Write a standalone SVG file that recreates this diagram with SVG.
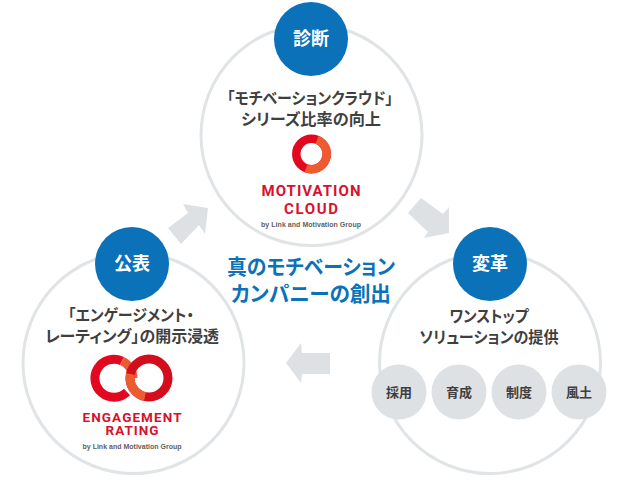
<svg xmlns="http://www.w3.org/2000/svg" width="620" height="484" viewBox="0 0 620 484">
<defs><style>
text{font-family:"Noto Sans CJK JP","Noto Sans",sans-serif;text-anchor:middle;font-weight:700}
.ring{fill:#fff;stroke:#e1e4e6;stroke-width:3}
.badge{fill:#0b72b9}
.bt{fill:#fff;font-size:18px}
.lab{fill:#3f3f3f;font-size:16px;font-feature-settings:"palt"}
.hero{fill:#0b72b9;font-size:21px;font-feature-settings:"palt"}
.sub{fill:#dde1e4}
.st{fill:#3f3f3f;font-size:13px}
.arr{fill:#dde1e4}
.lg{fill:#d9112c;font-family:Roboto,"Liberation Sans",sans-serif;font-size:15px}
.lg2{fill:#d9112c;font-family:Roboto,"Liberation Sans",sans-serif;font-size:13.5px}
.by{fill:#444;opacity:.85;font-family:"Liberation Sans",sans-serif;font-size:7px;font-weight:700}
</style></defs>
<g id="connectors">
<polygon class="arr" points="183,204 208,208 205,234 199,225 181,244 168,228 188,213"/>
<polygon class="arr" points="421,198 408,213 428,232 424,238 449,233 449,207 443,214"/>
<polygon class="arr" points="286,363 301,343 302,353 330,353 330,374 302,374 301,383"/>
</g>
<g id="diagnosis">
<circle class="ring" cx="311.500" cy="135" r="110.500"/>
<circle class="badge" cx="311" cy="39" r="37"/>
<text class="bt" x="311" y="45">診断</text>
<text class="lab" x="310" y="104" textLength="166" lengthAdjust="spacingAndGlyphs">「モチベーションクラウド」</text>
<text class="lab" x="311" y="125" textLength="140" lengthAdjust="spacingAndGlyphs">シリーズ比率の向上</text>
<circle cx="311.500" cy="154" r="15.200" fill="none" stroke="#e2081f" stroke-width="8.500"/>
<path fill="none" stroke="#ee5b30" stroke-width="8.500" d="M317,139.800A15.200,15.200 0 0 1 306,168.200"/>
<text class="lg" x="311" y="196" textLength="99" lengthAdjust="spacing">MOTIVATION</text>
<text class="lg" x="311" y="214" textLength="54" lengthAdjust="spacing">CLOUD</text>
<text class="by" x="311" y="227" textLength="100">by  Link and Motivation Group</text>
</g>
<g id="disclosure">
<circle class="ring" cx="133.500" cy="363" r="110.500"/>
<circle class="badge" cx="132" cy="264" r="37"/>
<text class="bt" x="132" y="270">公表</text>
<text class="lab" x="131" y="321" textLength="126" lengthAdjust="spacingAndGlyphs">「エンゲージメント・</text>
<text class="lab" x="132" y="342" textLength="174" lengthAdjust="spacingAndGlyphs">レーティング」の開示浸透</text>
<path fill="none" stroke="#e2081f" stroke-width="9" d="M122,361A19,19 0 1 0 127,392"/>
<path fill="none" stroke="#ea5a36" stroke-width="9" d="M122,361A19,19 0 0 1 133,378"/>
<circle cx="149" cy="378" r="19" fill="none" stroke="#d20d1c" stroke-width="9"/>
<path fill="none" stroke="#ee5b30" stroke-width="9" d="M130.500,374A19,19 0 0 0 145,396.600"/>
<text class="lg2" x="132" y="422" textLength="99" lengthAdjust="spacing">ENGAGEMENT</text>
<text class="lg2" x="132" y="435" textLength="53" lengthAdjust="spacing">RATING</text>
<text class="by" x="132" y="449" textLength="99">by  Link and Motivation Group</text>
</g>
<g id="transformation">
<circle class="ring" cx="490" cy="363" r="110.500"/>
<circle class="badge" cx="490" cy="264" r="37"/>
<text class="bt" x="490" y="270">変革</text>
<text class="lab" x="489" y="322" textLength="79" lengthAdjust="spacingAndGlyphs">ワンストップ</text>
<text class="lab" x="489" y="343" textLength="139" lengthAdjust="spacingAndGlyphs">ソリューションの提供</text>
</g>
<g id="saiyo"><circle class="sub" cx="399" cy="392" r="27.500"/><text class="st" x="399" y="397">採用</text></g>
<g id="ikusei"><circle class="sub" cx="459" cy="392" r="27.500"/><text class="st" x="459" y="397">育成</text></g>
<g id="seido"><circle class="sub" cx="519" cy="392" r="27.500"/><text class="st" x="519" y="397">制度</text></g>
<g id="fudo"><circle class="sub" cx="579" cy="392" r="27.500"/><text class="st" x="579" y="397">風土</text></g>
<g id="center">
<text class="hero" x="311" y="274" textLength="168" lengthAdjust="spacingAndGlyphs">真のモチベーション</text>
<text class="hero" x="311" y="301" textLength="160" lengthAdjust="spacingAndGlyphs">カンパニーの創出</text>
</g>
</svg>
